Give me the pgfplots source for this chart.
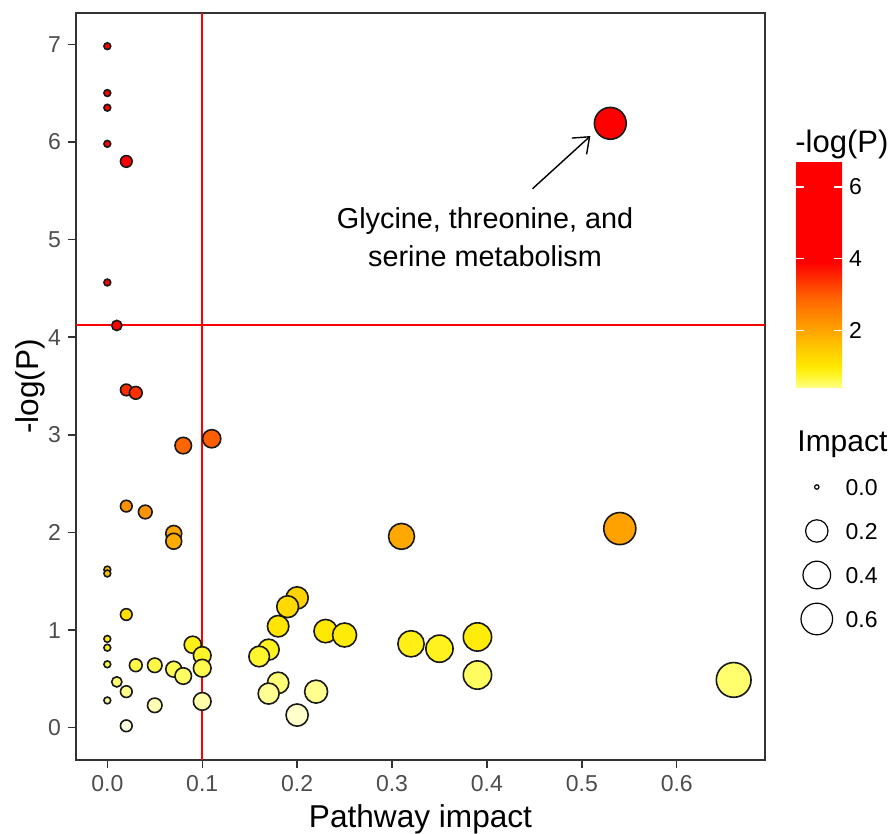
\documentclass[border=0pt]{standalone}
\usepackage{fontspec}
\setmainfont{Liberation Sans}
\usepackage{pgfplots}
\usepackage{pgfplotstable}
\pgfplotsset{compat=1.18}
\pgfplotsset{/pgf/number format/assume math mode=true}
\usetikzlibrary{arrows.meta}
\definecolor{tickgray}{HTML}{4D4D4D}
\definecolor{framegray}{HTML}{333333}
\definecolor{refred}{RGB}{255,0,0}

\pgfplotstableread{
x y
0.000 6.98
0.000 6.50
0.000 6.35
0.000 5.98
0.020 5.80
0.000 4.56
0.010 4.12
0.020 3.46
0.030 3.43
0.080 2.89
0.110 2.96
0.020 2.27
0.040 2.21
0.070 1.99
0.070 1.91
0.000 1.62
0.000 1.58
0.020 1.16
0.000 0.91
0.000 0.82
0.000 0.65
0.010 0.47
0.020 0.37
0.000 0.28
0.020 0.02
0.030 0.64
0.050 0.64
0.070 0.60
0.080 0.53
0.050 0.23
0.090 0.85
0.100 0.74
0.100 0.61
0.100 0.27
0.200 1.33
0.190 1.24
0.180 1.04
0.170 0.80
0.160 0.73
0.230 0.99
0.250 0.95
0.320 0.86
0.350 0.81
0.390 0.93
0.390 0.54
0.180 0.46
0.170 0.35
0.220 0.37
0.200 0.13
0.310 1.96
0.540 2.04
0.660 0.49
0.530 6.19
}\pathwaydata

\pgfplotstableread{
x y
0.100 -0.33
0.100 7.32
}\cutoffX

\begin{document}
\begin{tikzpicture}
\useasboundingbox (0,0) rectangle (447pt,417pt);
\begin{axis}[
  name=main,
  at={(38pt,37pt)}, anchor=south west,
  scale only axis, width=344.5pt, height=373.5pt,
  xmin=-0.033, xmax=0.693, ymin=-0.33, ymax=7.32,
  xtick={0,0.1,0.2,0.3,0.4,0.5,0.6},
  ytick={0,1,2,3,4,5,6,7},
  xticklabel style={/pgf/number format/fixed, /pgf/number format/fixed zerofill, /pgf/number format/precision=1},
  axis line style={framegray, line width=0.7pt},
  tick style={framegray, line width=0.7pt},
  tick align=outside, major tick length=4pt,
  xtick pos=bottom, ytick pos=left,
  ticklabel style={font=\fontsize{11.5}{13}\selectfont, text=tickgray},
  xlabel={Pathway impact}, ylabel={-log(P)},
  label style={font=\fontsize{15.8}{18}\selectfont},
  xlabel style={at={(axis description cs:0.5,0)}, anchor=base, yshift=-34pt},
  ylabel style={at={(axis description cs:0,0.5)}, anchor=center, yshift=23pt},
  colormap={heat}{rgb255(0pt)=(255,255,230); rgb255(20pt)=(255,255,190); rgb255(45pt)=(255,255,120); rgb255(75pt)=(255,245,40); rgb255(100pt)=(255,232,0); rgb255(150pt)=(255,200,0); rgb255(200pt)=(255,165,0); rgb255(290pt)=(255,100,0); rgb255(340pt)=(255,50,0); rgb255(390pt)=(255,0,0); rgb255(700pt)=(255,0,0)},
  point meta min=0, point meta max=7,
  colorbar,
  colorbar/width=23pt,
  colorbar shift/.style={},
  colorbar style={
    at={(parent axis.north east)}, anchor=north west,
    xshift=15.5pt, yshift=-75pt,
    scale only axis,
    height=112.5pt,
    ymin=0.39, ymax=6.67,
    ytick={2,4,6},
    axis line style={draw=none},
    tick style={white, line width=0.6pt},
    major tick length=4pt, tick align=inside,
    ytick pos=both, yticklabel pos=right,
    /pgf/number format/assume math mode=true,
    yticklabel style={font=\fontsize{11.5}{13}\selectfont, text=black},
  },
  legend cell align=left,
  legend style={
    at={(362.5pt,147.5pt)}, anchor=north west,
    draw=none, fill=none, inner sep=0pt, outer sep=0pt,
    row sep=0pt, column sep=6.5pt,
    font=\fontsize{11.5}{13}\selectfont,
    nodes={inner sep=0pt, minimum height=22pt, text depth=0pt},
  },
]
\draw[refred, line width=0.9pt] (axis cs:-0.033,4.125) -- (axis cs:0.693,4.125);
\addplot[draw=refred, line width=0.9pt, forget plot, no markers] table[x=x, y=y] {\cutoffX};
\addplot[scatter, only marks, mark=*, forget plot,
  scatter/use mapped color={draw=black!90, fill=mapped color},
  mark options={line width=0.8pt},
  visualization depends on={\thisrow{x} \as \imp},
  scatter/@pre marker code/.append style={/tikz/mark size={1.7+8.6*sqrt(\imp)}},
  point meta=\thisrow{y}
] table[x=x, y=y] {\pathwaydata};
\addlegendimage{only marks, mark=*, mark options={fill=white, draw=black, line width=0.6pt}, mark size=1.1pt}
\addlegendentry{0.0}
\addlegendimage{only marks, mark=*, mark options={fill=white, draw=black, line width=0.6pt}, mark size=5.6pt}
\addlegendentry{0.2}
\addlegendimage{only marks, mark=*, mark options={fill=white, draw=black, line width=0.6pt}, mark size=6.9pt}
\addlegendentry{0.4}
\addlegendimage{only marks, mark=*, mark options={fill=white, draw=black, line width=0.6pt}, mark size=7.9pt}
\addlegendentry{0.6}
\draw[-{Straight Barb[length=7pt, width=11pt]}, line width=0.7pt] (axis cs:0.448,5.52) -- (axis cs:0.509,6.06);
\node[anchor=base, font=\fontsize{14.4}{16}\selectfont] at (axis cs:0.398,5.118) {Glycine, threonine, and};
\node[anchor=base, font=\fontsize{14.4}{16}\selectfont] at (axis cs:0.398,4.719) {serine metabolism};
\end{axis}
\node[anchor=base west, inner sep=0pt, font=\fontsize{15.5}{17}\selectfont] at (397.5pt,340.5pt) {-log(P)};
\node[anchor=base west, inner sep=0pt, font=\fontsize{15}{17}\selectfont] at (398.5pt,191pt) {Impact};
\end{tikzpicture}
\end{document}
